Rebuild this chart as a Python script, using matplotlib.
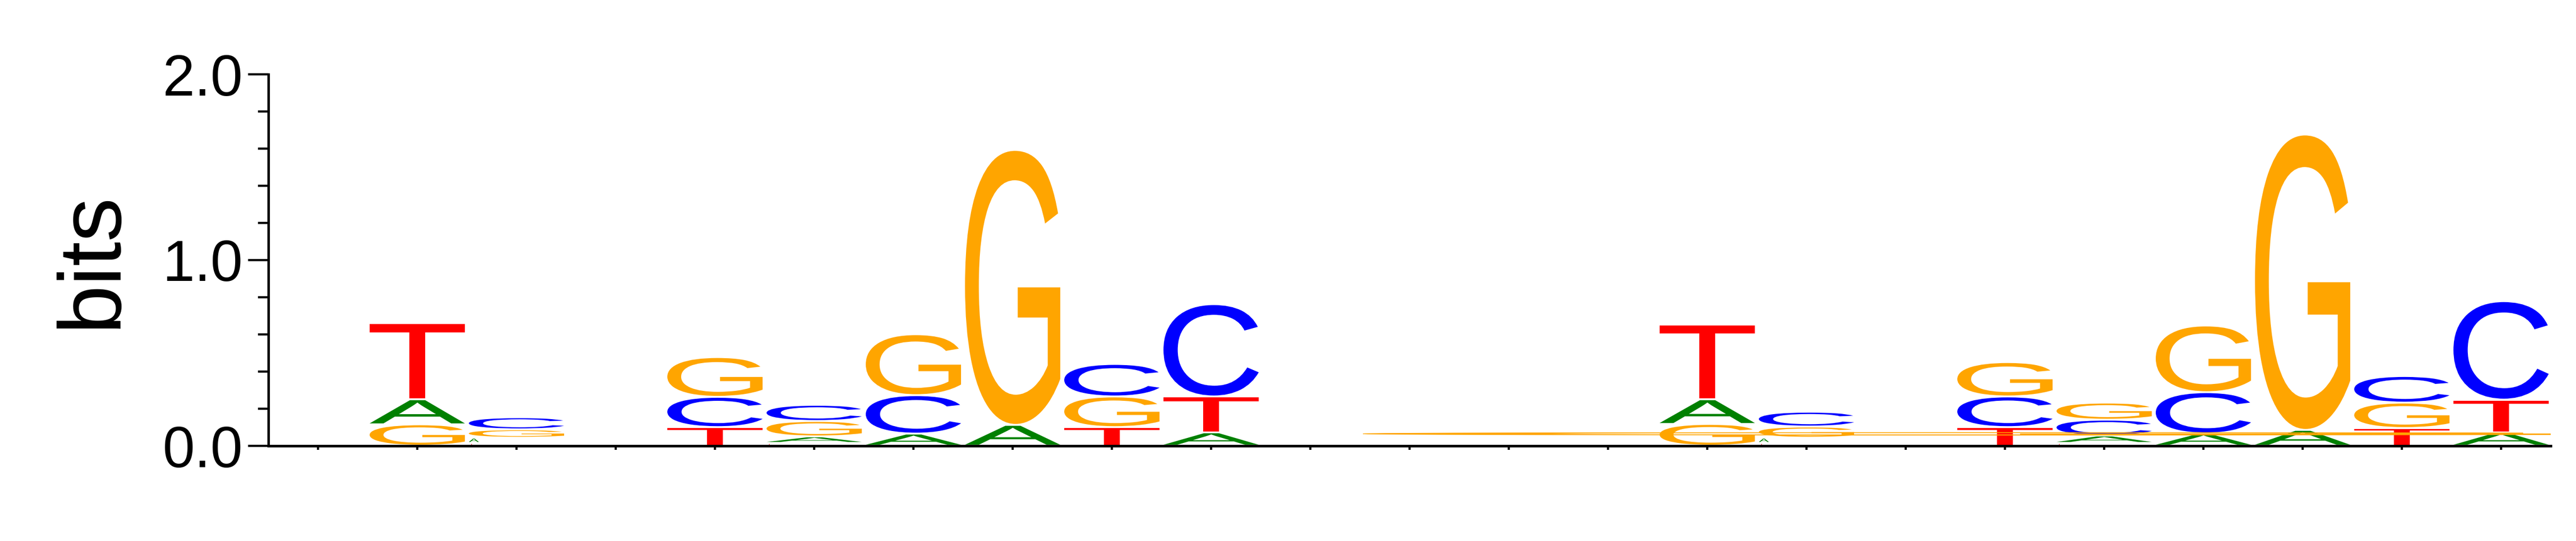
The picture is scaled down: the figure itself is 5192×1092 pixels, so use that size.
import numpy as np
import matplotlib
matplotlib.use("Agg")
import matplotlib.pyplot as plt
from matplotlib.textpath import TextPath
from matplotlib.patches import PathPatch
from matplotlib.font_manager import FontProperties
from matplotlib.transforms import Affine2D

# sequence logo, heights in bits per position
positions = np.arange(1, 24)
A = [0, .135, .028, 0, 0, .035, .065, .112, 0, .072, 0, 0,
     0, 0, .133, .028, 0, 0, .04, .066, .085, 0, .072]
C = [0, 0, .065, 0, .163, .087, .207, 0, .175, .497, 0, 0,
     0, 0, 0, .08, 0, .165, .085, .222, 0, .143, .53]
G = [0, .115, .045, 0, .214, .083, .328, 1.48, .165, 0, 0, 0,
     0, 0, .117, .06, 0, .185, .092, .359, 1.59, .137, 0]
T = [0, .41, .015, 0, .1, .015, 0, 0, .1, .193, 0, 0,
     0, 0, .402, .015, 0, .1, .015, 0, 0, .095, .176]

# the long squashed G smeared over the second half
smear_span = [11.53, 23.5]
smear_bits = [0.058, 0.072]

colors = {"A": "#008000", "C": "#0000ff", "G": "#ffa500", "T": "#ff0000"}
yticks = [0, 1, 2]
yticklabels = ["0.0", "1.0", "2.0"]

fp = FontProperties(family="Liberation Sans")
glyphs = {ch: TextPath((0, 0), ch, size=1, prop=fp) for ch in "ACGT"}


def draw_letter(ax, ch, x0, x1, y0, y1, lw=0):
    p = glyphs[ch]
    ext = p.get_extents()
    tr = (Affine2D().translate(-ext.x0, -ext.y0)
          .scale((x1 - x0) / ext.width, (y1 - y0) / ext.height)
          .translate(x0, y0))
    ec = colors[ch] if lw else "none"
    ax.add_patch(PathPatch(tr.transform_path(p), facecolor=colors[ch],
                           edgecolor=ec, linewidth=lw))


fig = plt.figure(figsize=(51.92, 10.92), dpi=100)
ax = fig.add_axes([541 / 5192, 192 / 1092, 4600 / 5192, 750 / 1092])

half = 0.48
for i, x in enumerate(positions):
    col = {"A": A[i], "C": C[i], "G": G[i], "T": T[i]}
    stack = sorted([(h, ch) for ch, h in col.items() if h > 0])
    base = 0.0
    for h, ch in stack:
        y0, y1 = base + 0.006, base + h - 0.004
        if h < 0.03:
            # tiny letters come out narrow, on the left of the column
            draw_letter(ax, ch, x - half, x - half + 3.6 * h, y0, max(y1, y0 + 0.004))
        else:
            draw_letter(ax, ch, x - half, x + half, y0, y1)
        base += h

draw_letter(ax, "G", smear_span[0], smear_span[1], smear_bits[0], smear_bits[1], lw=0.8)

ax.set_xlim(0.5, 23.5)
ax.set_ylim(0, 2)
for s in ["top", "right"]:
    ax.spines[s].set_visible(False)
ax.spines["left"].set_linewidth(3.6)
ax.spines["bottom"].set_linewidth(3.8)

ax.set_xticks(positions)
ax.set_xticklabels([])
ax.tick_params(axis="x", length=6, width=3.2, direction="out")

ax.set_yticks(yticks)
ax.set_yticklabels(yticklabels, fontsize=84, family="Liberation Sans")
ax.set_yticks(np.arange(0, 2.01, 0.2), minor=True)
ax.tick_params(axis="y", which="major", length=29.5, width=3.2, pad=8)
ax.tick_params(axis="y", which="minor", length=15, width=3.2)

ax.set_ylabel("bits", fontsize=128, family="Liberation Sans")
ax.yaxis.set_label_coords(-0.077, 0.5)
ax.yaxis.label.set_va("center")
ax.yaxis.label.set_ha("center")

fig.savefig("out.png", dpi=100)
